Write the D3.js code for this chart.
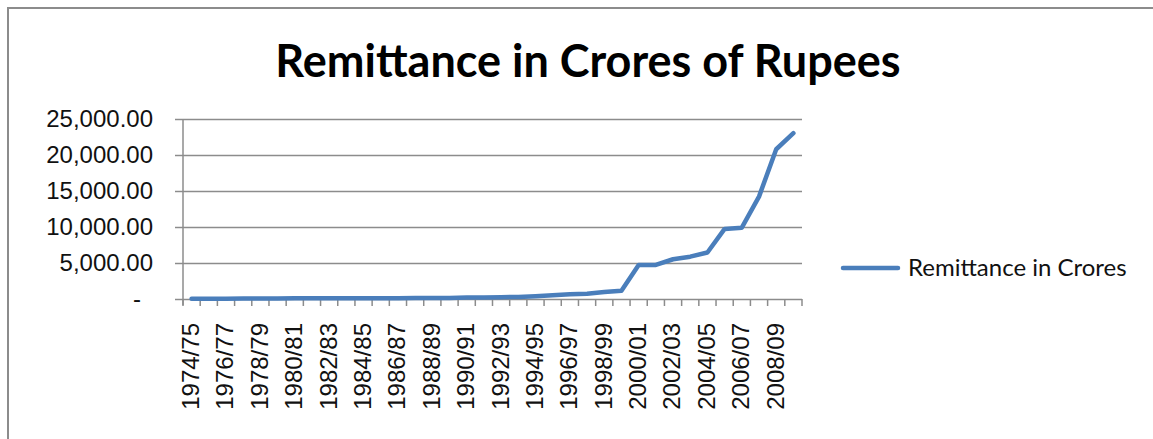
<!DOCTYPE html>
<html>
<head>
<meta charset="utf-8">
<script src="https://cdn.jsdelivr.net/npm/d3@7"></script>
<style>
  body { margin: 0; background: #fff; }
  svg { display: block; font-family: Lato, "Open Sans", sans-serif; }
</style>
</head>
<body>
<svg id="chart" width="1153" height="439"></svg>
<script>
// categories: fiscal years 1974/75 .. 2009/10
var years = [];
for (var y = 1974; y <= 2009; y++) {
    years.push(y + "/" + String((y + 1) % 100).padStart(2, "0"));
}

// remittance in crores
var remittance = [
    30, 40, 50, 60, 70, 80, 90, 100, 100, 110,
    110, 120, 120, 130, 130, 140, 200, 220, 250, 280,
    370, 510, 650, 740, 970, 1150, 4730, 4730, 5520, 5880,
    6460, 9730, 9910, 14220, 20800, 23030
];

var yTicks = [0, 5000, 10000, 15000, 20000, 25000];

var seriesName = "Remittance in Crores";
var chartTitle = "Remittance in Crores of Rupees";

var width = 1153, height = 439;
var margin = { left: 183, right: 351, top: 119, bottom: 140 };
var lineColor = "#4a7ebb";
var gridColor = "#8c8c8c";
var labelSize = 24;

var svg = d3.select("#chart");

// outer border
svg.append("rect")
    .attr("x", 8).attr("y", 8)
    .attr("width", width + 20).attr("height", height + 20)
    .attr("fill", "none")
    .attr("stroke", "#8c8c8c")
    .attr("stroke-width", 2);

svg.append("text")
    .attr("x", 588).attr("y", 77)
    .attr("text-anchor", "middle")
    .attr("font-size", 45)
    .attr("font-weight", "bold")
    .attr("fill", "#000")
    .text(chartTitle);

var x = d3.scaleBand()
    .domain(years)
    .range([margin.left, width - margin.right])
    .padding(0);

var yScale = d3.scaleLinear()
    .domain([0, 25000])
    .range([height - margin.bottom, margin.top]);

var fmt = function (d) {
    return d === 0 ? "-" : d3.format(",.2f")(d);
};

// y axis with gridlines
var yAxis = d3.axisLeft(yScale)
    .tickValues(yTicks)
    .tickFormat(fmt)
    .tickSize(-(width - margin.right - margin.left))
    .tickPadding(30);

svg.append("g")
    .attr("transform", `translate(${margin.left},0)`)
    .call(yAxis)
    .call(g => g.select(".domain").remove())
    .call(g => g.selectAll(".tick line")
        .attr("stroke", gridColor)
        .attr("stroke-width", 1.5))
    .call(g => g.selectAll(".tick line").clone()
        .attr("x1", -8).attr("x2", 0))
    .call(g => g.selectAll(".tick text")
        .attr("font-size", labelSize)
        .attr("fill", "#111")
        .attr("dx", d => d === 0 ? -12 : 0));

// y axis line
svg.append("line")
    .attr("x1", margin.left).attr("x2", margin.left)
    .attr("y1", yScale(25000)).attr("y2", yScale(0) + 6)
    .attr("stroke", gridColor)
    .attr("stroke-width", 1.5);

// x axis tick marks at category boundaries
var bounds = years.map(d => x(d)).concat([x(years[years.length - 1]) + x.bandwidth()]);
svg.append("g")
    .selectAll("line")
    .data(bounds)
    .join("line")
    .attr("x1", d => d).attr("x2", d => d)
    .attr("y1", yScale(0)).attr("y2", yScale(0) + 7)
    .attr("stroke", gridColor)
    .attr("stroke-width", 1.5);

// x axis labels, every other category
var xAxis = d3.axisBottom(x)
    .tickValues(years.filter((d, i) => i % 2 === 0))
    .tickSize(0);

svg.append("g")
    .attr("transform", `translate(0,${yScale(0)})`)
    .call(xAxis)
    .call(g => g.select(".domain").remove())
    .call(g => g.selectAll(".tick text")
        .attr("font-size", labelSize)
        .attr("fill", "#111")
        .attr("text-anchor", "end")
        .attr("dy", "0.35em")
        .attr("transform", "translate(-1,24) rotate(-90)")
        .attr("y", 0)
        .attr("x", 0));

// series line
var line = d3.line()
    .x((d, i) => x(years[i]) + x.bandwidth() / 2)
    .y(d => yScale(d));

svg.append("path")
    .datum(remittance)
    .attr("fill", "none")
    .attr("stroke", lineColor)
    .attr("stroke-width", 4.5)
    .attr("stroke-linejoin", "round")
    .attr("stroke-linecap", "round")
    .attr("d", line);

// legend
var legend = svg.append("g").attr("transform", "translate(843,268)");
legend.append("line")
    .attr("x1", 0).attr("x2", 55)
    .attr("stroke", lineColor)
    .attr("stroke-width", 4.5)
    .attr("stroke-linecap", "round");
legend.append("text")
    .attr("x", 65).attr("y", 0)
    .attr("dy", "0.35em")
    .attr("font-size", labelSize)
    .attr("fill", "#111")
    .text(seriesName);
</script>
</body>
</html>
